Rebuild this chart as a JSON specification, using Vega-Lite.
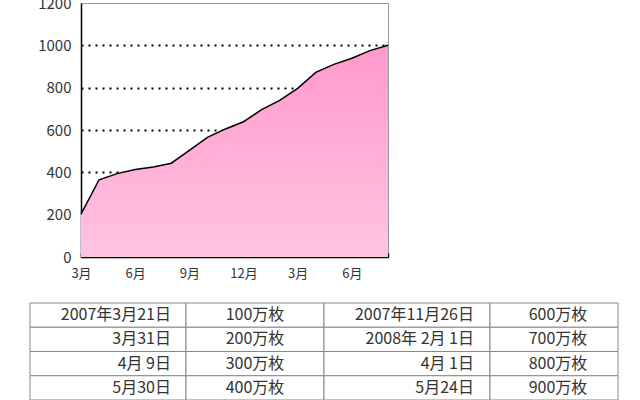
{
  "$schema": "https://vega.github.io/schema/vega-lite/v6.json",
  "background": "white",
  "padding": {"top": -5, "left": 29, "right": 0, "bottom": 0},
  "config": {
    "view": {"stroke": null},
    "font": "Noto Sans CJK JP",
    "axis": {"labelFont": "Noto Sans CJK JP", "labelColor": "#333", "labelFontSize": 13}
  },
  "datasets": {
    "shipments": [
      {"month": "2007-03", "value": 203},
      {"month": "2007-04", "value": 365},
      {"month": "2007-05", "value": 394},
      {"month": "2007-06", "value": 413},
      {"month": "2007-07", "value": 425},
      {"month": "2007-08", "value": 443},
      {"month": "2007-09", "value": 504},
      {"month": "2007-10", "value": 565},
      {"month": "2007-11", "value": 605},
      {"month": "2007-12", "value": 639},
      {"month": "2008-01", "value": 696},
      {"month": "2008-02", "value": 740},
      {"month": "2008-03", "value": 797},
      {"month": "2008-04", "value": 872},
      {"month": "2008-05", "value": 910},
      {"month": "2008-06", "value": 939},
      {"month": "2008-07", "value": 975},
      {"month": "2008-08", "value": 1000}
    ],
    "milestones": [
      {"row": 1, "col": 1, "text": "2007年3月21日"},
      {"row": 1, "col": 2, "text": "100万枚"},
      {"row": 1, "col": 3, "text": "2007年11月26日"},
      {"row": 1, "col": 4, "text": "600万枚"},
      {"row": 2, "col": 1, "text": "3月31日"},
      {"row": 2, "col": 2, "text": "200万枚"},
      {"row": 2, "col": 3, "text": "2008年 2月 1日"},
      {"row": 2, "col": 4, "text": "700万枚"},
      {"row": 3, "col": 1, "text": "4月 9日"},
      {"row": 3, "col": 2, "text": "300万枚"},
      {"row": 3, "col": 3, "text": "4月 1日"},
      {"row": 3, "col": 4, "text": "800万枚"},
      {"row": 4, "col": 1, "text": "5月30日"},
      {"row": 4, "col": 2, "text": "400万枚"},
      {"row": 4, "col": 3, "text": "5月24日"},
      {"row": 4, "col": 4, "text": "900万枚"}
    ]
  },
  "spacing": 21,
  "vconcat": [
    {
      "width": 307,
      "height": 254,
      "view": {"stroke": "#999", "strokeWidth": 1},
      "data": {"name": "shipments"},
      "mark": {
        "type": "area",
        "opacity": 1,
        "color": {
          "gradient": "linear",
          "x1": 0, "y1": 0, "x2": 0, "y2": 1,
          "stops": [
            {"offset": 0, "color": "#FF99CC"},
            {"offset": 1, "color": "#FFC4E2"}
          ]
        },
        "line": {"color": "black", "strokeWidth": 1.5}
      },
      "encoding": {
        "x": {
          "field": "month",
          "type": "ordinal",
          "scale": {"type": "point", "padding": 0},
          "axis": {
            "title": null,
            "labelAngle": 0,
            "labelExpr": "toNumber(slice(datum.value, 5)) % 3 == 0 ? toNumber(slice(datum.value, 5)) + '月' : ''",
            "domainColor": "black",
            "domainWidth": 1.5,
            "tickColor": "black",
            "tickWidth": 1.5,
            "tickSize": -4,
            "labelPadding": 14,
            "grid": false
          }
        },
        "y": {
          "field": "value",
          "type": "quantitative",
          "scale": {"domain": [0, 1200], "nice": false},
          "axis": {
            "title": null,
            "format": "d",
            "values": [0, 200, 400, 600, 800, 1000, 1200],
            "ticks": false,
            "labelPadding": 10,
            "labelFontSize": 15,
            "minExtent": 51,
            "domainColor": "black",
            "domainWidth": 1.5,
            "grid": true,
            "gridColor": "black",
            "gridWidth": 1.8,
            "gridDash": [2, 5],
            "gridOpacity": {"condition": {"test": "datum.value == 1200 || datum.value == 0", "value": 0}, "value": 1}
          }
        }
      }
    },
    {
      "data": {"name": "milestones"},
      "spacing": 0,
      "bounds": "flush",
      "hconcat": [
        {
          "width": 156,
          "height": 97,
          "transform": [{"filter": "datum.col == 1"}],
          "encoding": {
            "x": {"field": "col", "type": "nominal", "axis": null, "scale": {"range": [-51, 105], "paddingInner": 0, "paddingOuter": 0}},
            "y": {"field": "row", "type": "ordinal", "axis": null, "scale": {"paddingInner": 0, "paddingOuter": 0}}
          },
          "layer": [
            {"mark": {"type": "rect", "fill": "white", "stroke": "#888", "strokeWidth": 1}},
            {
              "mark": {"type": "text", "align": "right", "dx": -15, "fontSize": 16, "color": "#333", "font": "Noto Sans CJK JP"},
              "encoding": {
                "x": {"field": "col", "type": "nominal", "bandPosition": 1, "axis": null},
                "text": {"field": "text"}
              }
            }
          ]
        },
        {
          "width": 138,
          "height": 97,
          "transform": [{"filter": "datum.col == 2"}],
          "encoding": {
            "x": {"field": "col", "type": "nominal", "axis": null, "scale": {"range": [-51, 87], "paddingInner": 0, "paddingOuter": 0}},
            "y": {"field": "row", "type": "ordinal", "axis": null, "scale": {"paddingInner": 0, "paddingOuter": 0}}
          },
          "layer": [
            {"mark": {"type": "rect", "fill": "white", "stroke": "#888", "strokeWidth": 1}},
            {
              "mark": {"type": "text", "align": "center", "fontSize": 16, "color": "#333", "font": "Noto Sans CJK JP"},
              "encoding": {"text": {"field": "text"}}
            }
          ]
        },
        {
          "width": 166,
          "height": 97,
          "transform": [{"filter": "datum.col == 3"}],
          "encoding": {
            "x": {"field": "col", "type": "nominal", "axis": null, "scale": {"range": [-51, 115], "paddingInner": 0, "paddingOuter": 0}},
            "y": {"field": "row", "type": "ordinal", "axis": null, "scale": {"paddingInner": 0, "paddingOuter": 0}}
          },
          "layer": [
            {"mark": {"type": "rect", "fill": "white", "stroke": "#888", "strokeWidth": 1}},
            {
              "mark": {"type": "text", "align": "right", "dx": -16, "fontSize": 16, "color": "#333", "font": "Noto Sans CJK JP"},
              "encoding": {
                "x": {"field": "col", "type": "nominal", "bandPosition": 1, "axis": null},
                "text": {"field": "text"}
              }
            }
          ]
        },
        {
          "width": 128,
          "height": 97,
          "transform": [{"filter": "datum.col == 4"}],
          "encoding": {
            "x": {"field": "col", "type": "nominal", "axis": null, "scale": {"range": [-51, 77], "paddingInner": 0, "paddingOuter": 0}},
            "y": {"field": "row", "type": "ordinal", "axis": null, "scale": {"paddingInner": 0, "paddingOuter": 0}}
          },
          "layer": [
            {"mark": {"type": "rect", "fill": "white", "stroke": "#888", "strokeWidth": 1}},
            {
              "mark": {"type": "text", "align": "center", "dx": 4, "fontSize": 16, "color": "#333", "font": "Noto Sans CJK JP"},
              "encoding": {"text": {"field": "text"}}
            }
          ]
        }
      ]
    }
  ]
}
